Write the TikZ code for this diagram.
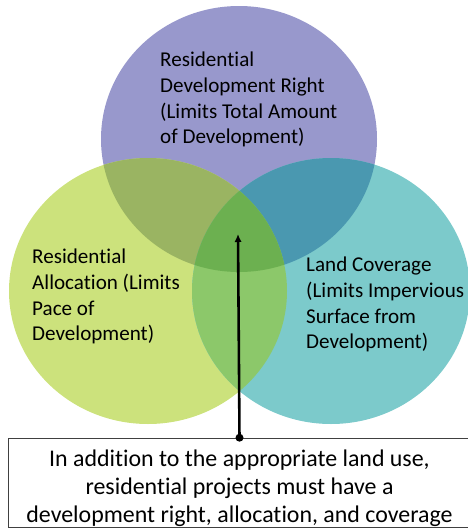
\documentclass[tikz,border=0pt]{standalone}
\usepackage{fontspec}
\setmainfont{Carlito}[Ligatures=NoCommon]
\usetikzlibrary{arrows.meta, positioning, calc}

% Region colours
\definecolor{rightcol}{RGB}{152,152,204}
\definecolor{alloccol}{RGB}{204,226,124}
\definecolor{covercol}{RGB}{124,202,203}
\definecolor{rightalloc}{RGB}{154,180,98}
\definecolor{rightcover}{RGB}{74,152,176}
\definecolor{alloccover}{RGB}{140,200,106}
\definecolor{allthree}{RGB}{108,176,80}

\tikzset{
    setlabel/.style={align=left, inner sep=0pt, anchor=north west,
        font=\fontsize{18}{21.9}\selectfont},
    notebox/.style={draw=black!75, line width=0.85pt, inner sep=0pt,
        minimum width=13.83cm, align=center,
        font=\fontsize{20.4}{24.2}\selectfont},
    dot/.style={circle, fill=black, inner sep=0pt, minimum size=0.24cm}
}

\begin{document}
\begin{tikzpicture}[x=0.03cm, y=-0.03cm]
        \useasboundingbox (0,0) rectangle (467,529);

        % Draw sets
        \fill[rightcol] (239,139) ellipse [x radius=138, y radius=133];
        \fill[alloccol] (148,291) ellipse [x radius=139, y radius=133];
        \fill[covercol] (331,291) ellipse [x radius=139, y radius=133];

        % Overlaps
        \begin{scope}
            \clip (239,139) ellipse [x radius=138, y radius=133];
            \fill[rightalloc] (148,291) ellipse [x radius=139, y radius=133];
            \fill[rightcover] (331,291) ellipse [x radius=139, y radius=133];
        \end{scope}
        \begin{scope}
            \clip (148,291) ellipse [x radius=139, y radius=133];
            \fill[alloccover] (331,291) ellipse [x radius=139, y radius=133];
            \clip (331,291) ellipse [x radius=139, y radius=133];
            \fill[allthree] (239,139) ellipse [x radius=138, y radius=133];
        \end{scope}

        % Set labels
        \node[setlabel] (devright) at (160,52) {Residential\\Development Right\\(Limits Total Amount\\of Development)};
        \node[setlabel] (alloc) at (32,249) {Residential\\Allocation (Limits\\Pace of\\Development)};
        \node[setlabel] (coverage) at (306,257) {Land Coverage\\(Limits Impervious\\Surface from\\Development)};

        % Note below
        \node[notebox, anchor=south] (note) at (239.5,527.5) {\rule{0pt}{0.84cm}In addition to the appropriate land use,\\residential projects must have a\\development right, allocation, and coverage};

        % Draw arrow
        \coordinate (middle) at (238,234);
        \node[dot] (foot) at (note.north) {};
        \draw[line width=2.2pt, -{Latex[length=0.24cm, width=0.22cm]}] (foot.center) -- (middle);
    \end{tikzpicture}
\end{document}
